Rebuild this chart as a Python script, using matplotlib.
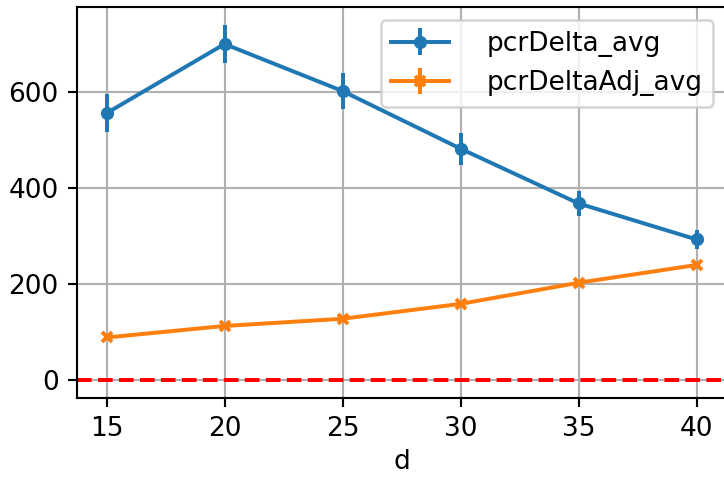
import matplotlib
matplotlib.use('Agg')
import matplotlib.pyplot as plt
import pandas as pd

d = [15, 20, 25, 30, 35, 40]
pcr_delta_avg = [556, 700, 602, 482, 368, 293]
pcr_delta_err = [40, 40, 37, 33, 27, 19]
pcr_delta_adj_avg = [89, 113, 128, 159, 203, 240]
pcr_delta_adj_err = [4, 4, 4, 5, 5, 6]

df = pd.DataFrame({'pcrDelta_avg': pcr_delta_avg,
                   'pcrDeltaAdj_avg': pcr_delta_adj_avg},
                  index=pd.Index(d, name='d'))
err = pd.DataFrame({'pcrDelta_avg': pcr_delta_err,
                    'pcrDeltaAdj_avg': pcr_delta_adj_err},
                   index=df.index)

dpi = 190
fig = plt.figure(figsize=(724 / dpi, 477 / dpi), dpi=dpi)
ax = fig.add_axes([0.1064, 0.1656, 0.8966, 0.8197])

ax.errorbar(df.index, df['pcrDelta_avg'], yerr=err['pcrDelta_avg'],
            fmt='o-', markersize=4, color='#1f77b4', label='pcrDelta_avg')
ax.errorbar(df.index, df['pcrDeltaAdj_avg'], yerr=err['pcrDeltaAdj_avg'],
            fmt='x-', markersize=3.5, markeredgewidth=1.5,
            color='#ff7f0e', label='pcrDeltaAdj_avg')
ax.axhline(0, color='r', linestyle='--', linewidth=1.5)

ax.set_xlabel('d', labelpad=2.5)
ax.set_xticks(d)
ax.grid(True)
ax.legend(loc='upper right', handlelength=2.2, handletextpad=1.4)

fig.savefig('out.png', dpi=dpi)
